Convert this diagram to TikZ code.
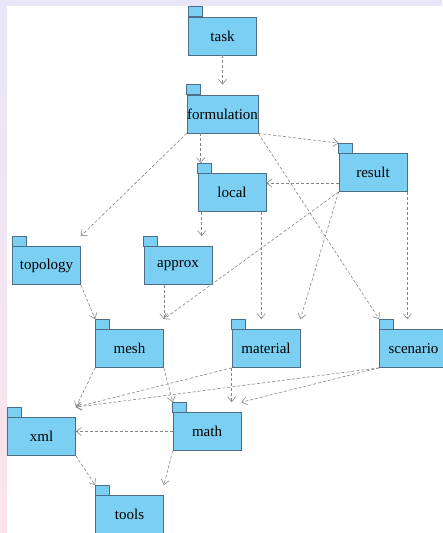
\documentclass[tikz,border=0pt]{standalone}
\usepackage{fontspec}
\setmainfont{Liberation Serif}
\usetikzlibrary{arrows.meta}
\definecolor{pkgfill}{HTML}{7BCFF2}
\definecolor{pkgborder}{HTML}{4E6E86}
\definecolor{lav}{HTML}{E8E6F8}
\definecolor{pinkish}{HTML}{FCE4EA}
\definecolor{arrowgray}{HTML}{858585}
\tikzset{
  pkg/.style={draw=pkgborder, fill=pkgfill, line width=0.7pt, minimum width=68pt, minimum height=38pt, inner sep=0pt, font=\fontsize{15}{18}\selectfont, text=black},
  pkgtab/.style={draw=pkgborder, fill=pkgfill, line width=0.7pt},
  dep/.style={draw=arrowgray, line width=0.6pt, dash pattern=on 3pt off 2pt, -{Straight Barb[length=5pt,width=8pt]}}
}
\begin{document}
\begin{tikzpicture}[x=1pt,y=-1pt]
\useasboundingbox (0,0) rectangle (442,533);
\fill[white] (0,0) rectangle (442,533);
\fill[lav] (0,0) rectangle (442,6);
\shade[top color=lav, bottom color=pinkish] (0,0) rectangle (7,533);

\node[pkg] (task) at (222.5,36) {task};
\node[pkg] (formulation) at (222.5,114) {formulation};
\node[pkg] (local) at (232,192.5) {local};
\node[pkg] (result) at (373,172.5) {result};
\node[pkg] (topology) at (46.5,265.5) {topology};
\node[pkg] (approx) at (178,265.5) {approx};
\node[pkg] (mesh) at (129.5,348.5) {mesh};
\node[pkg] (material) at (266,348.5) {material};
\node[pkg] (scenario) at (413.5,348.5) {scenario};
\node[pkg] (math) at (207,431.5) {math};
\node[pkg] (xml) at (41.5,436.5) {xml};
\node[pkg] (tools) at (129.5,514.5) {tools};

\foreach \n in {task,formulation,local,result,topology,approx,mesh,material,scenario,math,xml,tools}
  \draw[pkgtab] (\n.north west) rectangle ++(14pt,10pt);

% tops of the packages (tab level)
\foreach \n in {formulation,local,result,topology,approx,mesh,material,scenario,math,xml,tools}
  \coordinate (\n-top) at ([yshift=10pt]\n.north);

\draw[dep] (task.south) -- (task.south |- formulation-top);
\draw[dep] ([xshift=14pt]formulation.south west) coordinate (f1) -- (f1 |- local-top);
\draw[dep] (formulation.south west) -- ([yshift=10pt]topology.north east);
\draw[dep] (formulation.south east) -- ([yshift=10pt]result.north west);
\draw[dep] (formulation.south east) -- ([yshift=10pt]scenario.north west);
\draw[dep] ([yshift=-10.5pt]result.west) coordinate (r1) -- (r1 -| local.east);
\draw[dep] (result.south west) -- ([yshift=10pt]mesh.north east);
\draw[dep] (result.south west) -- ([yshift=10pt]material.north east);
\draw[dep] (result.south east) -- (result.south east |- scenario-top);
\draw[dep] ([xshift=4pt]local.south west) coordinate (l1) -- (l1 |- approx-top);
\draw[dep] ([xshift=-5pt]local.south east) coordinate (l2) -- (l2 |- material-top);
\draw[dep] (topology.south east) -- ([yshift=10pt]mesh.north west);
\draw[dep] (approx.south -| mesh.east) -- ([yshift=10pt]mesh.north east);
\draw[dep] (mesh.south west) -- ([yshift=10pt]xml.north east);
\draw[dep] (mesh.south east) -- ([yshift=10pt]math.north west);
\draw[dep] (material.south west) -- ([yshift=10pt]xml.north east);
\draw[dep] (material.south west) -- (material.south west |- math-top);
\draw[dep] (scenario.south west) -- ([yshift=10pt]xml.north east);
\draw[dep] (scenario.south west) -- ([yshift=10pt]math.north east);
\draw[dep] (math.west) -- (math.west -| xml.east);
\draw[dep] (xml.south east) -- ([yshift=10pt]tools.north west);
\draw[dep] (math.south west) -- ([yshift=10pt]tools.north east);
\end{tikzpicture}
\end{document}
